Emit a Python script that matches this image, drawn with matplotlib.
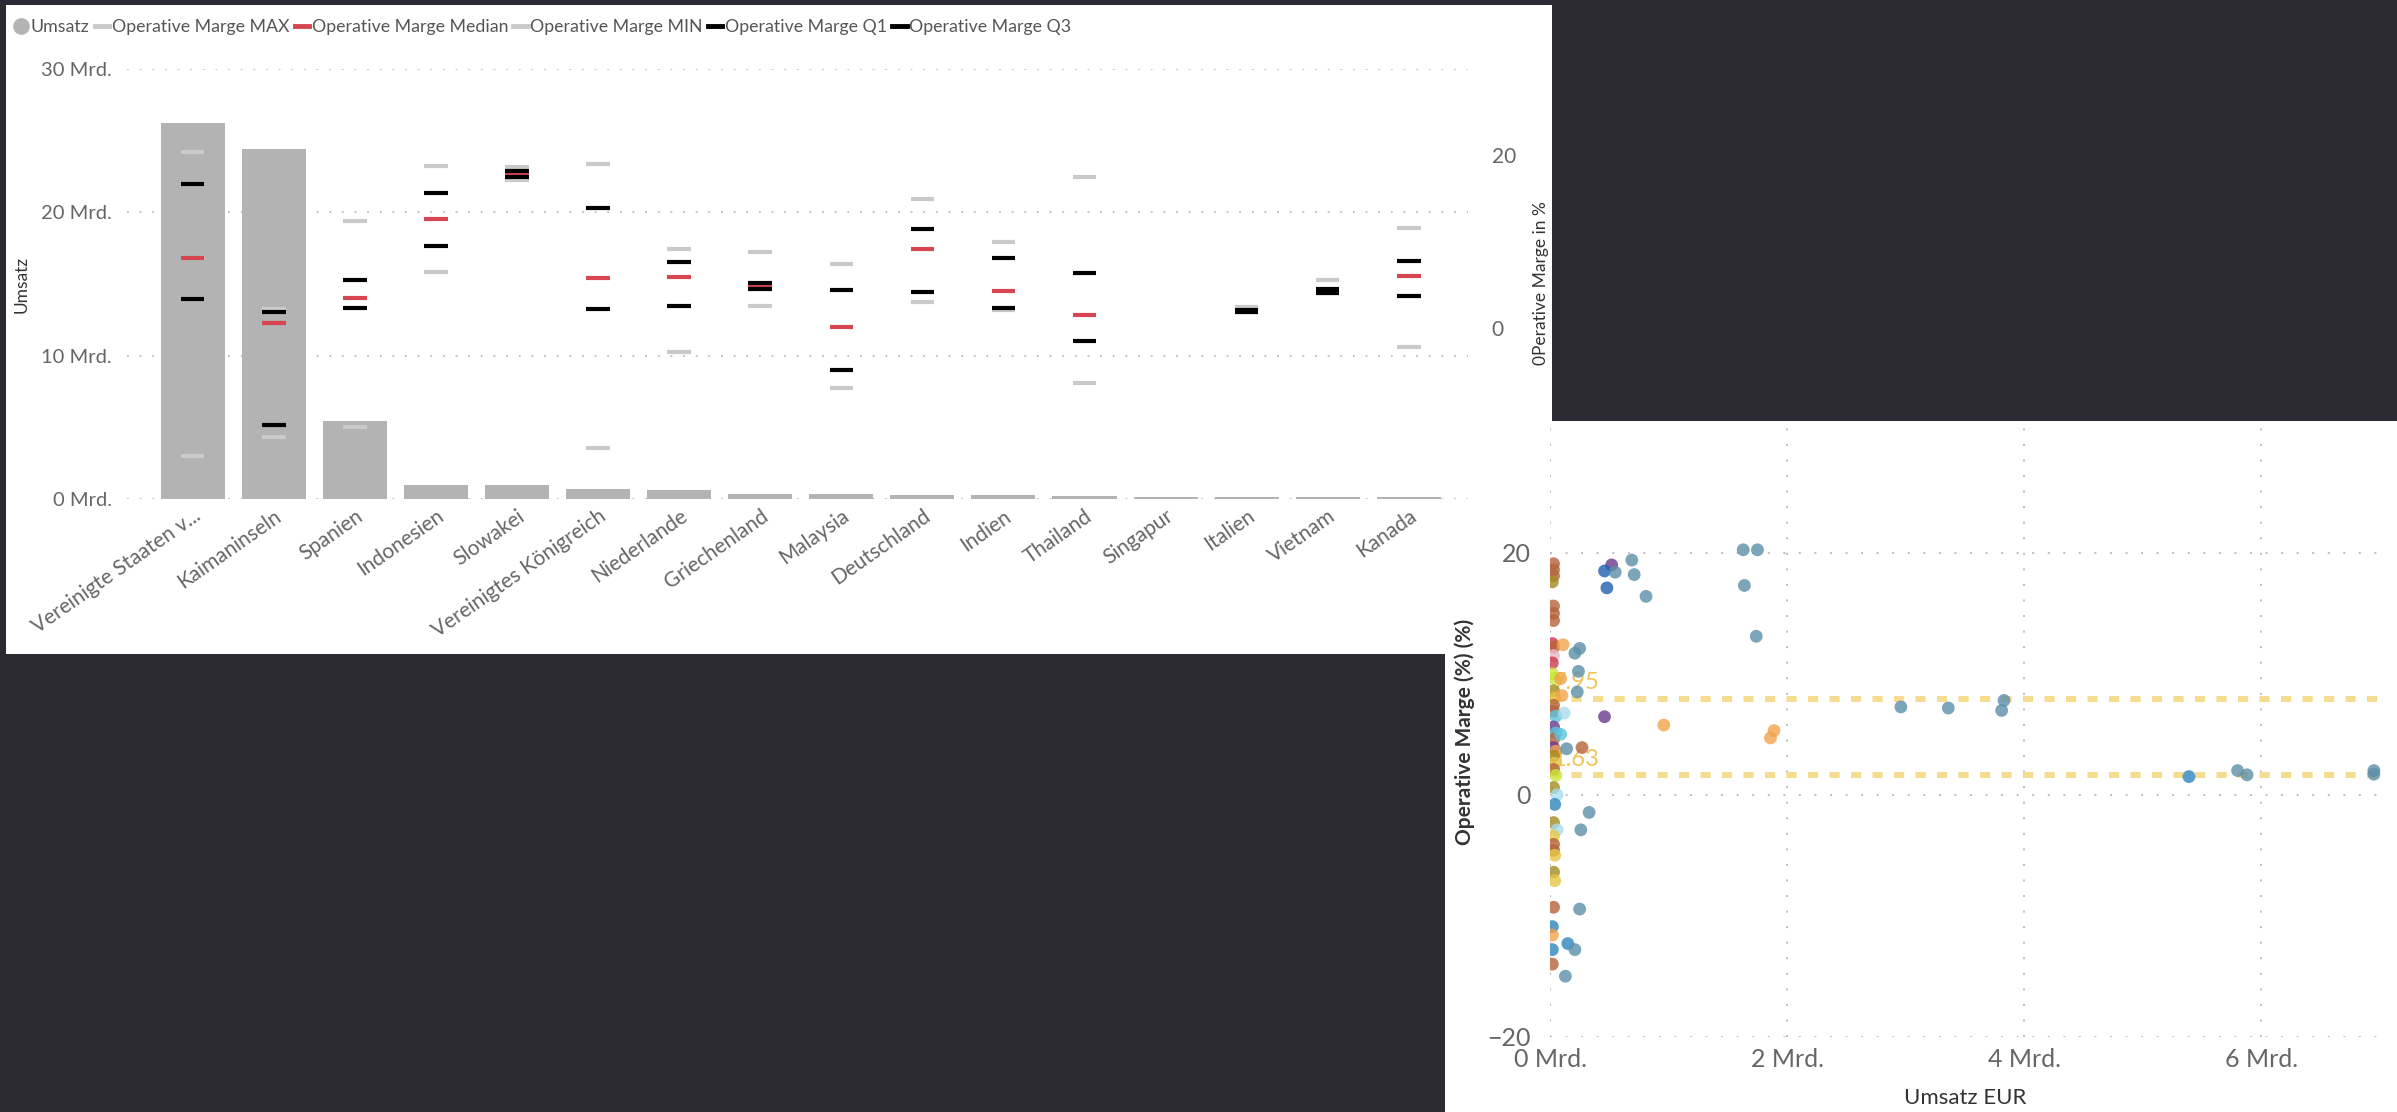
import matplotlib
matplotlib.use("Agg")
import matplotlib.pyplot as plt
from matplotlib.patches import Rectangle
from matplotlib.lines import Line2D
import numpy as np

plt.rcParams['font.family'] = ['Lato', 'DejaVu Sans']

W, H, DPI = 2397, 1112, 100
nan = np.nan

# ---------------- bar chart data ----------------
countries = ["Vereinigte Staaten v...", "Kaimaninseln", "Spanien", "Indonesien",
             "Slowakei", "Vereinigtes Königreich", "Niederlande", "Griechenland",
             "Malaysia", "Deutschland", "Indien", "Thailand", "Singapur",
             "Italien", "Vietnam", "Kanada"]
umsatz_mrd = [26.2, 24.4, 5.42, 0.98, 0.96, 0.71, 0.63, 0.33,
              0.33, 0.30, 0.28, 0.19, 0.15, 0.13, 0.12, 0.12]
marge_max = [20.35, 2.2, 12.4, 18.7, 18.6, 18.9, 9.1, 8.8,
             7.35, 14.9, 9.9, 17.5, nan, 2.45, 5.5, 11.6]
marge_median = [8.05, 0.5, 3.4, 12.55, 17.75, 5.8, 5.85, 4.9,
                0.1, 9.15, 4.25, 1.5, nan, 1.95, 4.2, 6.0]
marge_min = [-14.9, -12.7, -11.5, 6.4, 17.15, -13.9, -2.8, 2.55,
             -7.0, 3.0, 2.1, -6.4, nan, 1.8, 4.0, -2.2]
marge_q1 = [3.3, -11.3, 2.3, 9.45, 17.45, 2.15, 2.55, 4.5,
            -4.9, 4.15, 2.3, -1.5, nan, 1.85, 3.98, 3.65]
marge_q3 = [16.6, 1.85, 5.5, 15.6, 18.1, 13.9, 7.6, 5.2,
            4.35, 11.45, 8.1, 6.3, nan, 2.05, 4.45, 7.7]
left_ticks = [0, 10, 20, 30]
left_ticklabels = ["0 Mrd.", "10 Mrd.", "20 Mrd.", "30 Mrd."]
right_ticks = [0, 20]

# ---------------- scatter data ----------------
sc_umsatz = [0.03, 0.03, 0.03, 0.02, 0.03, 0.03, 0.03, 0.02, 0.03, 0.03, 0.02,
             0.02, 0.04, 0.03, 0.04, 0.03, 0.03, 0.05, 0.03, 0.05, 0.03, 0.03,
             0.05, 0.03, 0.04, 0.03, 0.05, 0.03, 0.06, 0.04, 0.03, 0.06, 0.03,
             0.03, 0.03, 0.04, 0.03, 0.04, 0.03, 0.02, 0.02, 0.02, 0.02,
             0.11, 0.12, 0.09, 0.10, 0.09, 0.14, 0.27,
             0.52, 0.46, 0.55, 0.48, 0.69, 0.71, 0.81, 1.63, 1.75, 1.64, 1.74,
             0.25, 0.21, 0.24, 0.23, 0.46, 0.96, 1.89, 1.86,
             0.33, 0.26, 0.25, 0.15, 0.21, 0.13,
             2.96, 3.36, 3.83, 3.81, 5.39, 5.80, 5.88, 6.95, 6.95]
sc_marge = [19.1, 18.6, 18.1, 17.6, 15.6, 15.0, 14.4, 12.5, 12.2, 11.5, 10.9,
            10.0, 9.6, 8.6, 8.0, 7.4, 6.9, 6.5, 5.6, 5.1, 4.6, 3.9,
            3.6, 3.2, 2.6, 2.1, 1.6, 0.6, 0.0, -0.8, -2.3, -2.9, -3.4,
            -4.1, -4.6, -5.0, -6.4, -7.1, -9.3, -10.9, -11.6, -12.8, -14.0,
            12.4, 6.75, 9.6, 8.2, 5.0, 3.8, 3.9,
            19.0, 18.5, 18.4, 17.1, 19.4, 18.2, 16.4, 20.25, 20.25, 17.3, 13.1,
            12.1, 11.7, 10.2, 8.5, 6.45, 5.76, 5.3, 4.7,
            -1.46, -2.9, -9.45, -12.3, -12.8, -15.0,
            7.26, 7.17, 7.8, 6.97, 1.5, 2.0, 1.65, 2.0, 1.7]
sc_group = ["brown", "brown", "brown", "olive", "brown", "brown", "brown", "red",
            "brown", "pink", "red", "lime", "lime", "olive", "gold", "brown",
            "brown", "cyan", "purple", "cyan", "brown", "purple", "orange",
            "olive", "gold", "brown", "lime", "olive", "lightblue", "blue",
            "olive", "lightblue", "gold", "brown", "brown", "gold", "olive",
            "gold", "brown", "blue", "orange", "blue", "brown",
            "orange", "lightblue", "orange", "orange", "cyan", "steel", "brown",
            "purple", "darkblue", "steel", "darkblue", "steel", "steel", "steel",
            "steel", "steel", "steel", "steel",
            "steel", "steel", "steel", "steel", "purple", "orange", "orange", "orange",
            "steel", "steel", "steel", "blue", "steel", "steel",
            "steel", "steel", "steel", "steel", "blue", "steel", "steel", "steel", "steel"]
ref_lines = [7.95, 1.63]
ref_labels = ["7.95", "1.63"]
sc_xticks = [0, 2, 4, 6]
sc_xticklabels = ["0 Mrd.", "2 Mrd.", "4 Mrd.", "6 Mrd."]
sc_yticks = [-20, 0, 20]

palette = {"steel": "#5B8FA8", "darkblue": "#1F5FAE", "purple": "#6B3A8E",
           "brown": "#B5633A", "orange": "#F2A34A", "gold": "#E8C547",
           "olive": "#A38B22", "lightblue": "#A8DCEE", "cyan": "#5CC3DB",
           "blue": "#2E86BE", "red": "#CC3B4A", "pink": "#E8BCC6",
           "lime": "#C9E83A"}

BG = "#2C2B34"
BAR = "#B3B3B3"
LIGHT = "#CACACA"
RED = "#D64550"
TICK = "#666666"
TITLE = "#333333"


def fbox(x0, y0, x1, y1):
    """pixel box (top-left origin) -> figure fraction [l, b, w, h]"""
    return [x0 / W, 1 - y1 / H, (x1 - x0) / W, (y1 - y0) / H]


fig = plt.figure(figsize=(W / DPI, H / DPI), dpi=DPI, facecolor=BG)

# white report tiles
for (x0, y0, x1, y1) in [(6, 5, 1552, 654), (1445, 421, 2397, 1112)]:
    fig.patches.append(Rectangle((x0 / W, 1 - y1 / H), (x1 - x0) / W, (y1 - y0) / H,
                                 transform=fig.transFigure, facecolor="white",
                                 edgecolor="none", zorder=-10))

# ---------------- combo chart: revenue bars + margin markers ----------------
ax = fig.add_axes(fbox(127, 69, 1468, 499))
ax.set_facecolor("none")
x = np.arange(len(countries))
ax.bar(x, umsatz_mrd, width=0.79, color=BAR, zorder=2)
ax.set_xlim(-0.81, 15.73)
ax.set_ylim(0, 30)
ax.set_yticks(left_ticks)
ax.set_yticklabels(left_ticklabels)
ax.yaxis.grid(True, linestyle=(0, (1, 6)), color="#BDBDBD", lw=1.3)
ax.set_axisbelow(True)
for s in ax.spines.values():
    s.set_visible(False)
ax.tick_params(axis="y", length=0, pad=11, labelsize=14.5, labelcolor=TICK)
ax.tick_params(axis="x", length=0, pad=5, labelsize=15, labelcolor=TICK)
ax.set_xticks(x)
ax.set_xticklabels(countries, rotation=35, ha="right", rotation_mode="anchor")

ax2 = ax.twinx()
ax2.set_ylim(-19.84, 29.96)
ax2.set_yticks(right_ticks)
for s in ax2.spines.values():
    s.set_visible(False)
ax2.tick_params(axis="y", length=0, pad=17, labelsize=15, labelcolor=TICK)
half = 0.145
series = [(marge_max, LIGHT), (marge_median, RED), (marge_min, LIGHT),
          (marge_q1, "black"), (marge_q3, "black")]
for vals, col in series:
    v = np.array(vals, dtype=float)
    ok = ~np.isnan(v)
    ax2.hlines(v[ok], x[ok] - half, x[ok] + half, colors=col, lw=3.0, zorder=3)

fig.text(22 / W, 1 - 284 / H, "Umsatz", rotation=90, ha="center", va="center",
         fontsize=12.5, color=TITLE)
fig.text(1541 / W, 1 - 283 / H, "0Perative Marge in %", rotation=90,
         ha="center", va="center", fontsize=12.5, color=TITLE)

handles = [Line2D([], [], marker="o", linestyle="none", markersize=11,
                  markerfacecolor=BAR, markeredgecolor=BAR),
           Line2D([], [], color=LIGHT, lw=3.5),
           Line2D([], [], color=RED, lw=3.5),
           Line2D([], [], color=LIGHT, lw=3.5),
           Line2D([], [], color="black", lw=3.5),
           Line2D([], [], color="black", lw=3.5)]
labels = ["Umsatz", "Operative Marge MAX", "Operative Marge Median",
          "Operative Marge MIN", "Operative Marge Q1", "Operative Marge Q3"]
leg = fig.legend(handles, labels, loc="center left",
                 bbox_to_anchor=(14 / W, 1 - 27 / H), ncol=6, frameon=False,
                 handlelength=0.8, handletextpad=0.15, columnspacing=0.3,
                 fontsize=12.8, borderaxespad=0, borderpad=0)
for t in leg.get_texts():
    t.set_color("#555555")

# ---------------- scatter: revenue vs. operating margin ----------------
ax3 = fig.add_axes(fbox(1550, 427, 2381, 1036.7))
ax3.set_facecolor("none")
ax3.set_xlim(0, 7.01)
ax3.set_ylim(-20, 30.4)
ax3.set_xticks(sc_xticks)
ax3.set_xticklabels(sc_xticklabels)
ax3.set_yticks(sc_yticks)
ax3.grid(True, linestyle=(0, (1, 7)), color="#BDBDBD", lw=1.4)
ax3.set_axisbelow(True)
for s in ax3.spines.values():
    s.set_visible(False)
ax3.tick_params(axis="both", length=0, labelsize=18, labelcolor=TICK)
ax3.tick_params(axis="x", pad=8)
ax3.tick_params(axis="y", pad=14)

for val, lab in zip(ref_lines, ref_labels):
    ax3.axhline(val, color="#F6DC8E", lw=4.3, linestyle=(0, (1.7, 1.9)),
                zorder=1.5)
    ax3.text(0.02, val + 0.45, lab, ha="left", va="bottom", fontsize=17,
             color="#F0C55C", zorder=1.6)

ax3.scatter(sc_umsatz, sc_marge, s=85, c=[palette[g] for g in sc_group],
            alpha=0.8, linewidths=0, zorder=3)

fig.text(1965 / W, 1 - 1098 / H, "Umsatz EUR", ha="center", va="center",
         fontsize=16, color=TITLE)
fig.text(1465 / W, 1 - 732 / H, "Operative Marge (%) (%)", rotation=90,
         ha="center", va="center", fontsize=15, color=TITLE, fontweight="bold")

fig.savefig("out.png", dpi=DPI, facecolor=BG)
